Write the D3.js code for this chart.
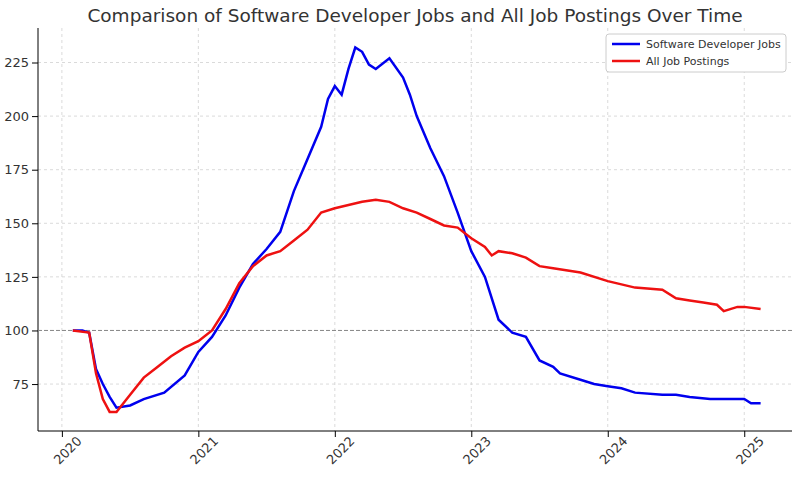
<!DOCTYPE html>
<html><head><meta charset="utf-8">
<script src="https://cdn.jsdelivr.net/npm/d3@7"></script>
<style>body{margin:0;background:#fff;font-family:"DejaVu Sans",sans-serif}</style>
</head><body><svg id="c" width="800" height="477"></svg>
<script>
var devT = [2020.08,2020.15,2020.2,2020.25,2020.3,2020.35,2020.4,2020.5,2020.6,2020.75,2020.9,2021.0,2021.1,2021.2,2021.3,2021.4,2021.5,2021.6,2021.7,2021.8,2021.9,2021.95,2022.0,2022.05,2022.1,2022.15,2022.2,2022.25,2022.3,2022.4,2022.5,2022.55,2022.6,2022.7,2022.8,2022.9,2023.0,2023.1,2023.2,2023.3,2023.4,2023.5,2023.6,2023.65,2023.8,2023.9,2024.0,2024.1,2024.2,2024.4,2024.5,2024.6,2024.75,2025.0,2025.05,2025.12];
var devV = [100,100,99,82,75,69,64,65,68,71,79,90,97,107,120,131,138,146,165,180,195,208,214,210,222,232,230,224,222,227,218,210,200,185,172,155,137,125,105,99,97,86,83,80,77,75,74,73,71,70,70,69,68,68,66,66];
var allT = [2020.08,2020.2,2020.25,2020.3,2020.35,2020.4,2020.5,2020.6,2020.7,2020.8,2020.9,2021.0,2021.1,2021.2,2021.3,2021.4,2021.5,2021.6,2021.7,2021.8,2021.9,2022.0,2022.2,2022.3,2022.4,2022.5,2022.6,2022.7,2022.8,2022.9,2023.0,2023.1,2023.15,2023.2,2023.3,2023.4,2023.5,2023.6,2023.8,2024.0,2024.2,2024.4,2024.5,2024.6,2024.7,2024.8,2024.85,2024.95,2025.0,2025.12];
var allV = [100,99,80,68,62,62,70,78,83,88,92,95,100,110,122,130,135,137,142,147,155,157,160,161,160,157,155,152,149,148,143,139,135,137,136,134,130,129,127,123,120,119,115,114,113,112,109,111,111,110];
var years = [2020,2021,2022,2023,2024,2025];
var yTicks = [75,100,125,150,175,200,225];

var svg = d3.select('#c');
var L = 38, R = 792, T = 28, B = 431;
var x = d3.scaleLinear().domain([2019.825, 2025.35]).range([L, R]);
var y = d3.scaleLinear().domain([53.1, 241.1]).range([B, T]);

// grid
svg.append('g').selectAll('line').data(years).enter().append('line')
	.attr('x1', function(d){return x(d)}).attr('x2', function(d){return x(d)})
	.attr('y1', T).attr('y2', B).attr('stroke', '#d0d0d0').attr('stroke-dasharray', '3,3').attr('stroke-width', 0.8);
svg.append('g').selectAll('line').data(yTicks).enter().append('line')
	.attr('x1', L).attr('x2', R).attr('y1', function(d){return y(d)}).attr('y2', function(d){return y(d)})
	.attr('stroke', '#d0d0d0').attr('stroke-dasharray', '3,3').attr('stroke-width', 0.8);

// axes
var xa = svg.append('g').attr('transform', 'translate(0,' + B + ')')
	.call(d3.axisBottom(x).tickValues(years).tickFormat(d3.format('d')).tickSizeOuter(0));
xa.selectAll('text').attr('transform', 'rotate(-45)').style('text-anchor', 'end')
	.attr('dx', '0.5em').attr('dy', '1em');
var ya = svg.append('g').attr('transform', 'translate(' + L + ',0)')
	.call(d3.axisLeft(y).tickValues(yTicks).tickSizeOuter(0));
svg.selectAll('.tick text').style('font-size', '13px').style('font-family', 'DejaVu Sans').attr('fill', '#333');
svg.selectAll('.domain').remove();
svg.append('line').attr('x1', L).attr('x2', R).attr('y1', B).attr('y2', B).attr('stroke', '#000');
svg.append('line').attr('x1', L).attr('x2', L).attr('y1', T).attr('y2', B).attr('stroke', '#000');

// baseline
svg.append('line').attr('x1', L).attr('x2', R).attr('y1', y(100)).attr('y2', y(100))
	.attr('stroke', '#888').attr('stroke-dasharray', '4,2').attr('stroke-width', 1);

var line = d3.line().x(function(d){return x(d[0])}).y(function(d){return y(d[1])});
svg.append('path').datum(devT.map(function(t,i){return [t, devV[i]]}))
	.attr('d', line).attr('fill', 'none').attr('stroke', '#0000ee').attr('stroke-width', 2.5);
svg.append('path').datum(allT.map(function(t,i){return [t, allV[i]]}))
	.attr('d', line).attr('fill', 'none').attr('stroke', '#ee1111').attr('stroke-width', 2.5);

svg.append('text').attr('x', (L + R) / 2 + 0).attr('y', 22).attr('text-anchor', 'middle')
	.style('font-size', '18.5px').attr('fill', '#333').text('Comparison of Software Developer Jobs and All Job Postings Over Time');

// legend
var lg = svg.append('g').attr('transform', 'translate(606,34)');
lg.append('rect').attr('width', 180).attr('height', 38).attr('rx', 3).attr('fill', '#fff').attr('stroke', '#ccc');
[['Software Developer Jobs', '#0000ee'], ['All Job Postings', '#ee1111']].forEach(function(d, i) {
	lg.append('line').attr('x1', 6).attr('x2', 34).attr('y1', 10 + i * 17).attr('y2', 10 + i * 17)
		.attr('stroke', d[1]).attr('stroke-width', 2.5);
	lg.append('text').attr('x', 40).attr('y', 14 + i * 17).style('font-size', '11px').attr('fill', '#333').text(d[0]);
});
</script></body></html>
